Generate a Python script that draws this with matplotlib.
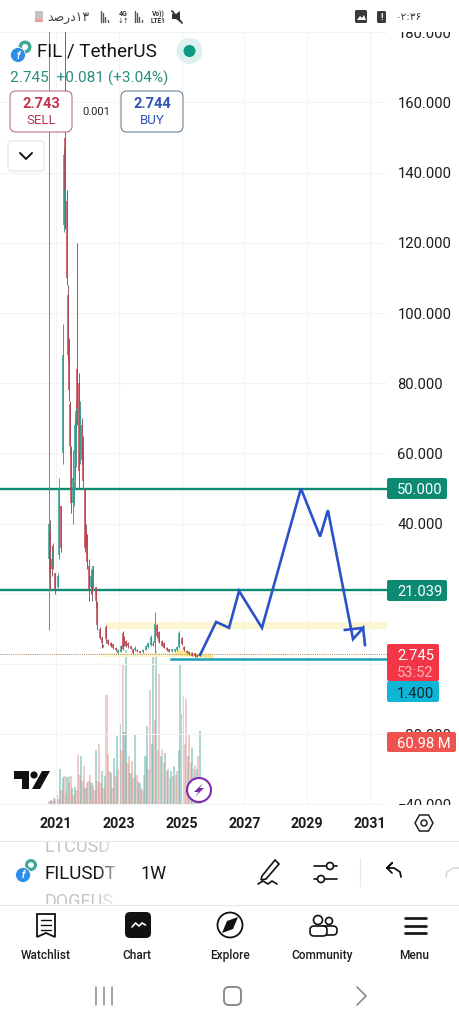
import numpy as np
import matplotlib
matplotlib.use('Agg')
import matplotlib.pyplot as plt
from matplotlib.patches import Rectangle, Circle, FancyBboxPatch, Polygon

plt.rcParams['font.family'] = ['Roboto', 'DejaVu Sans']

# weekly candles
candle_years = [2020.79, 2020.82, 2020.87, 2020.92, 2020.98, 2021.05, 2021.11, 2021.16, 2021.21, 2021.24,
                2021.29, 2021.35, 2021.38, 2021.43, 2021.46, 2021.49, 2021.54, 2021.57, 2021.60, 2021.65,
                2021.68, 2021.73, 2021.78, 2021.83, 2021.87, 2021.91, 2021.95, 2022.00, 2022.05, 2022.10,
                2022.15, 2022.19, 2022.26, 2022.32, 2022.39, 2022.47, 2022.51, 2022.59, 2022.67, 2022.74,
                2022.82, 2022.91, 2022.98, 2023.06, 2023.12, 2023.17, 2023.23, 2023.30, 2023.38, 2023.44,
                2023.52, 2023.59, 2023.68, 2023.78, 2023.87, 2023.94, 2024.02, 2024.08, 2024.15, 2024.21,
                2024.28, 2024.37, 2024.44, 2024.53, 2024.61, 2024.69, 2024.78, 2024.84, 2024.93, 2025.00,
                2025.08, 2025.16, 2025.25, 2025.33, 2025.42, 2025.50, 2025.58]
opens = [30, 38, 30, 28, 26, 22, 31, 45, 60, 125,
         150, 132, 105, 90, 74, 60, 46, 47, 52, 60,
         84, 80, 60, 68, 62, 50, 38, 36, 28, 22,
         24, 22, 22, 17, 10, 7.5, 5.3, 10.5, 6.8, 6.1,
         5.6, 4.6, 3.2, 3.5, 8.8, 7.6, 6.5, 6.1, 5.0, 4.2,
         3.9, 4.1, 3.6, 3.4, 4.1, 4.9, 5.4, 5.6, 6, 11,
         9, 6.5, 6, 4.6, 4.2, 3.7, 3.7, 4.0, 4.8, 7.5,
         4.8, 3.8, 3.5, 3.1, 3.0, 2.6, 2.5]
closes = [40, 26, 27, 32, 21, 25, 50, 33, 88, 145,
          135, 110, 88, 78, 62, 46, 53, 50, 68, 72,
          73, 55, 72, 58, 52, 33, 34, 29, 21, 25,
          20, 28, 18, 11, 7.5, 6, 5.2, 7, 5.7, 5.1,
          4.5, 4.0, 4.0, 5.2, 4.2, 5.4, 5.0, 5.0, 4.3, 3.1,
          4.7, 3.6, 3.2, 4.0, 5.2, 5.9, 7.8, 5.4, 11.5, 8,
          6.2, 5.2, 4.7, 4.0, 3.5, 4.2, 4.2, 4.8, 8.8, 5.6,
          4.0, 3.2, 2.8, 2.4, 2.2, 2.1, 3.0]
highs = [240, 41, 34, 34.5, 26, 26, 53, 45, 97, 147,
         200, 135, 108, 93, 75, 62, 61, 52, 70, 75,
         120, 83, 75, 70, 65, 50, 40, 37, 30, 27,
         27, 28, 22, 18, 10.5, 8, 5.5, 11, 7, 6.3,
         5.8, 4.8, 4.2, 5.5, 9.4, 8, 6.8, 6.3, 5.2, 4.4,
         5, 4.2, 3.7, 4.2, 5.5, 6.2, 8.3, 6.5, 14.8, 11.5,
         9.5, 6.8, 6.3, 4.8, 4.4, 4.4, 4.4, 5, 9.5, 7.8,
         5, 4, 3.8, 3.3, 3.2, 2.8, 3.2]
lows = [9.7, 21, 25, 27, 20, 21, 30, 32, 57, 123,
        124, 108, 86, 75, 60, 43, 40, 45, 50, 56,
        68, 50, 57, 57, 50, 32, 33, 27, 18, 20,
        18, 21, 16, 9.7, 7, 4.7, 4.8, 6, 5.5, 4.9,
        4.3, 3.8, 2.9, 3.3, 4, 5.2, 4.8, 4.7, 4.2, 2.9,
        3.8, 3.4, 3.0, 3.2, 3.9, 4.6, 5, 5.2, 3.1, 7.5,
        6, 5, 4.5, 3.8, 3.3, 3.5, 3.5, 3.8, 4.5, 5.5,
        3.8, 3.0, 2.6, 2.2, 2, 1.9, 2.3]

# volume in millions
volumes = [3, 4, 3, 6, 5, 8, 5, 30, 12, 22, 24, 10, 23, 18, 24, 14, 8, 15, 12, 41,
           25, 40, 20, 32, 14, 18, 20, 25, 18, 16, 12, 45, 20, 50, 18, 28, 14, 24, 91, 42,
           28, 26, 14, 39, 24, 57, 30, 67, 45, 116, 60, 128, 35, 40, 26, 36, 22, 58, 25, 20,
           18, 14, 12, 25, 40, 65, 30, 95, 50, 125, 70, 127, 45, 108, 40, 46, 35, 43, 28, 30,
           22, 28, 24, 32, 25, 28, 45, 116, 75, 90, 50, 87, 40, 58, 35, 47, 30, 33, 30, 40, 61]
volume_up = [0, 1, 0, 1, 0, 1, 0, 1, 0, 1, 0, 0, 1, 0, 0, 1, 0, 1, 0, 0,
             0, 1, 0, 0, 1, 0, 0, 0, 1, 0, 0, 1, 0, 0, 0, 1, 0, 1, 0, 0,
             0, 1, 0, 1, 0, 1, 0, 1, 0, 0, 1, 1, 0, 0, 1, 0, 0, 1, 0, 0,
             1, 0, 0, 0, 1, 1, 0, 0, 1, 1, 0, 1, 0, 0, 1, 0, 0, 1, 0, 1,
             0, 1, 0, 1, 0, 0, 1, 1, 1, 0, 0, 0, 1, 0, 0, 1, 0, 0, 1, 0, 1]
volume_years = np.linspace(2020.79, 2025.58, len(volumes))

# hand drawn projection
path_years = [2025.59, 2026.10, 2026.51, 2026.83, 2027.56, 2028.80, 2029.41, 2029.66, 2030.46, 2030.78, 2030.84]
path_values = [2.6, 12, 10.3, 20.8, 10.3, 50, 36.3, 43.8, 7.1, 10.3, 5.4]
stub_years = [2030.20, 2030.78]
stub_values = [9.7, 10.3]

levels = [50, 21.039]
support = 1.4
last_price = 2.745
year_ticks = [2021, 2023, 2025, 2027, 2029, 2031]
price_ticks = [-40, -20, 0, 20, 40, 60, 80, 100, 120, 140, 160, 180]
# 0 and 20 sit fully behind the value boxes
hidden_ticks = [0, 20]

UP = '#2a9d8f'
DOWN = '#c8404f'
GREEN = '#0d8a72'

fig = plt.figure(figsize=(4.6, 10.24), dpi=100, facecolor='white')
ax = fig.add_axes([0, 219 / 1024, 387 / 460, 773 / 1024])
ax.set_xlim(2019.217, 2031.541)
ax.set_ylim(-40.17, 180.06)
ax.set_facecolor('none')
ax.grid(True, color='#f2f3f5', lw=0.8)
ax.set_axisbelow(True)
for s in ax.spines.values():
    s.set_visible(False)

# volume on its own scale, same baseline as the price panel bottom
vol = ax.twinx()
vol.set_ylim(0, 637)
vol.set_yticks([])
vol.set_zorder(1)
vol.set_facecolor('none')
for s in vol.spines.values():
    s.set_visible(False)
vol.bar(volume_years, volumes, width=0.075,
        color=['#5fb0a8' if u else '#dd9a96' for u in volume_up], alpha=0.5, lw=0)
ax.set_zorder(2)

ax.set_xticks(year_ticks)
ax.set_yticks(price_ticks)
tick_labels = []
for p in price_ticks:
    if p in hidden_ticks:
        tick_labels.append('')
    elif p < 0:
        tick_labels.append('\u2212' + f'{-p:.3f}')
    else:
        tick_labels.append(f'{p:.3f}')
ax.set_yticklabels(tick_labels)
ax.yaxis.tick_right()
ax.tick_params(axis='y', length=0, pad=7.5, labelsize=10.6, labelcolor='#1c1c1c')
ax.tick_params(axis='x', length=0, pad=8.5, labelsize=10.3, labelcolor='#1c1c1c')
for t in ax.get_xticklabels():
    t.set_fontweight('bold')

# annotation bands
ax.fill_between([2022.55, 2031.541], 9.97, 12, color='#fdf6d3', lw=0)
ax.fill_between([2022.4, 2026.0], 2.0, 3.2, color='#fdf6d3', lw=0)
ax.add_patch(Polygon([(2024.9, 4.2), (2025.6, 2.6), (2026.0, 2.5), (2026.0, 1.6), (2024.75, 2.5)],
                     color='#f7e98a', lw=0))

for lv in levels:
    ax.axhline(lv, color=GREEN, lw=1.7)
ax.plot([2024.65, 2031.541], [support, support], color='#1b9fb5', lw=1.8)
ax.axhline(last_price, color='#b5814f', lw=0.7, ls=(0, (1, 1.2)))

# candles
for x, o, c, h, l in zip(candle_years, opens, closes, highs, lows):
    up = c >= o
    ax.vlines(x, l, h, color='#4f9a90' if up else '#8a5f63', lw=0.7)
    ax.vlines(x, min(o, c), max(o, c), color=UP if up else DOWN, lw=1.1)

ax.plot(path_years, path_values, color='#2a52c9', lw=1.9, solid_joinstyle='miter')
ax.plot(stub_years, stub_values, color='#2a52c9', lw=1.9)

# app chrome in pixel coordinates
ui = fig.add_axes([0, 0, 1, 1], zorder=10)
ui.set_xlim(0, 460)
ui.set_ylim(1024, 0)
ui.axis('off')
ui.patch.set_visible(False)


def box(x0, y0, x1, y1, fc, ec='none', lw=0.0, r=2.0, z=3):
    ui.add_patch(FancyBboxPatch((x0 + r, y0 + r), x1 - x0 - 2 * r, y1 - y0 - 2 * r,
                                boxstyle=f'round,pad={r},rounding_size={r}',
                                fc=fc, ec=ec, lw=lw, zorder=z))


def txt(x, y, s, size=9, color='#1c1c1c', ha='center', weight='normal', **kw):
    return ui.text(x, y, s, fontsize=size, color=color, ha=ha, va='center_baseline',
                   fontweight=weight, zorder=5, **kw)


def line(xs, ys, color='#111111', lw=1.2, z=4):
    ui.plot(xs, ys, color=color, lw=lw, solid_capstyle='round', zorder=z)


# clip the edge tick labels
ui.add_patch(Rectangle((0, 0), 460, 32, fc='white', ec='none', zorder=1))
ui.add_patch(Rectangle((388, 805), 72, 12, fc='white', ec='none', zorder=1))

# status bar
box(35, 11, 43, 22, '#c9c2bc', r=1)
ui.add_patch(Rectangle((35, 19), 8, 3, fc='#e2a29a', ec='none', zorder=4))
txt(47, 16, '\ufeaa\ufebb\ufead\ufea9\u06f1\u06f3', size=9, color='#444444', ha='left', family='DejaVu Sans')
for bx in (101, 135):
    for i, hh in enumerate((11, 9, 5, 2)):
        line([bx + i * 2.2, bx + i * 2.2], [22, 22 - hh], color='#555555', lw=1)
txt(123, 13, '4G', size=5, color='#333333', weight='bold')
txt(123, 20, '\u2193\u2191', size=5, color='#333333', family='DejaVu Sans')
txt(158, 13, 'Vo))', size=4.8, color='#333333', weight='bold')
txt(158, 20, 'LTE1', size=4.8, color='#333333', weight='bold')
line([172, 182], [11, 23], color='#333333', lw=1.3)
ui.add_patch(Polygon([(172, 14), (176, 14), (180, 11), (180, 22), (176, 19), (172, 19)], fc='#333333', ec='none', zorder=4))
box(355, 10, 367, 23, '#3a3a3a', r=1.5)
ui.add_patch(Polygon([(357, 20), (360, 16), (362, 18), (364, 15), (366, 20)], fc='white', ec='none', zorder=5))
box(377, 11, 386, 23, '#3a3a3a', r=1.5)
txt(381.5, 17, '!', size=6.5, color='white', weight='bold')
txt(396, 15.5, '\u06f0\u06f2:\u06f3\u06f6', size=7.5, color='#333333', ha='left', family='DejaVu Sans')

# header
ui.add_patch(Circle((25, 47), 6.5, fc='#3da894', ec='none', zorder=4))
ui.add_patch(Circle((25, 47), 3, fc='white', ec='none', zorder=4))
ui.add_patch(Circle((18, 55), 7.5, fc='#2c8ee8', ec='white', lw=0.6, zorder=4))
txt(18, 55, 'f', size=7, color='white', style='italic', weight='bold')
txt(37, 49.5, 'FIL / TetherUS', size=13.6, ha='left', color='#151515')
ui.add_patch(Circle((189.5, 51), 13, fc='#dcf1ed', ec='none', zorder=3))
ui.add_patch(Circle((189.5, 51), 6, fc='#0b9981', ec='none', zorder=4))
txt(10, 77, '2.745  +0.081 (+3.04%)', size=11.1, color='#2a8f7e', ha='left')
box(10, 91, 72, 132, 'white', ec='#b2606e', lw=0.7, r=6)
txt(41, 103, '2.743', size=10.5, color='#c2354d', weight='bold')
txt(41, 119.5, 'SELL', size=9.5, color='#c2354d')
txt(96, 111, '0.001', size=8, color='#222222')
box(121, 91, 183, 132, 'white', ec='#5a7390', lw=0.7, r=6)
txt(152, 103, '2.744', size=10.5, color='#2f54b5', weight='bold')
txt(152, 119.5, 'BUY', size=9.5, color='#2f54b5')
box(8, 141, 44, 171, 'white', ec='#e8e8e8', lw=0.9, r=3)
line([20, 26, 32], [153, 159, 153], lw=1.4)

# price labels
box(387, 478, 447, 499, GREEN)
txt(420, 488.5, '50.000', size=10.6, color='white')
box(387, 580, 447, 601, GREEN)
txt(420, 590.5, '21.039', size=10.6, color='white')
box(387, 644, 439, 681, '#f23645')
txt(415.5, 655, '2.745', size=10.6, color='white')
txt(415.5, 671.5, '53:52', size=10.6, color='#fbb4ba')
box(387, 681, 439, 702, '#0fb5d4')
txt(415.5, 692.5, '1.400', size=10.6, color='#0b2530')
box(387, 732, 456, 752, '#ef5350')
txt(423.5, 742.5, '60.98 M', size=10.6, color='white')

# TV logo and bolt
ui.add_patch(Polygon([(14, 771), (29, 771), (29, 789), (22, 789), (22, 779), (14, 779)], fc='#111111', ec='none', zorder=4))
ui.add_patch(Circle((34, 775), 3.6, fc='#111111', ec='none', zorder=4))
ui.add_patch(Polygon([(42, 771), (50, 771), (40, 789), (32, 789)], fc='#111111', ec='none', zorder=4))
ui.add_patch(Circle((199, 790), 12, fc='white', ec='#7b2cae', lw=1.5, zorder=4))
ui.add_patch(Polygon([(203, 783), (194, 792), (198.5, 792), (195, 797), (204, 788), (199.5, 788)], fc='#7b2cae', ec='none', zorder=5))

# settings hex
ui.add_patch(Polygon([(415, 823), (419.5, 815), (428.5, 815), (433, 823), (428.5, 831), (419.5, 831)],
                     fc='white', ec='#222222', lw=1.1, zorder=4))
ui.add_patch(Circle((424, 823), 3, fc='white', ec='#222222', lw=1.1, zorder=5))

# symbol row
clip = Rectangle((0, 841), 460, 63, transform=ui.transData)
t = txt(45, 845, 'LTCUSD', size=13, color='#c4c4c4', ha='left', clip_on=True)
t.set_clip_path(clip)
t = txt(45, 900, 'DOGEUS', size=13, color='#c4c4c4', ha='left', clip_on=True)
t.set_clip_path(clip)
txt(45, 872, 'FILUSDT', size=13.5, color='#151515', ha='left')
fade = np.ones((1, 40, 4))
fade[..., 3] = np.linspace(0, 1, 40)
ui.imshow(fade, extent=(98, 122, 904, 841), aspect='auto', zorder=6)
ui.set_xlim(0, 460)
ui.set_ylim(1024, 0)
line([0, 460], [840.5, 840.5], color='#e6e6e6', lw=0.8, z=7)
line([0, 460], [904.5, 904.5], color='#e6e6e6', lw=0.8, z=7)
ui.add_patch(Circle((31, 865), 6, fc='#3da894', ec='none', zorder=7))
ui.add_patch(Circle((31, 865), 2.8, fc='white', ec='none', zorder=7))
ui.add_patch(Circle((23, 875), 7.5, fc='#2c8ee8', ec='white', lw=0.6, zorder=7))
ui.text(23, 875, 'f', fontsize=7, color='white', style='italic', fontweight='bold', ha='center', va='center', zorder=8)
txt(154, 872, '1W', size=13, color='#151515')

# pencil
ui.add_patch(Polygon([(262, 876), (275, 860), (279, 864), (266, 879), (261, 880)], fc='white', ec='#111111', lw=1.2, zorder=5))
line([258, 263, 268, 272, 277], [884, 881, 884, 881, 884], lw=1.2)
# sliders
line([314, 337], [866, 866], lw=1.2)
line([314, 337], [879, 879], lw=1.2)
ui.add_patch(Circle((330, 866), 3.5, fc='white', ec='#111111', lw=1.2, zorder=5))
ui.add_patch(Circle((321, 879), 3.5, fc='white', ec='#111111', lw=1.2, zorder=5))
line([360, 360], [858, 886], color='#e8e8e8', lw=0.8)
# undo, redo
line([401, 400, 394, 387, 392, 387, 392], [877, 872, 868, 868, 863, 868, 873], lw=1.3)
line([446, 447, 453, 460], [877, 872, 868, 868], color='#d8d8d8', lw=1.1)

# bottom nav
ui.add_patch(Polygon([(37, 914), (55, 914), (55, 937), (46, 933), (37, 937)], fc='white', ec='#111111', lw=1.3, zorder=4))
for yy in (920, 925, 930):
    line([41, 51], [yy, yy], lw=1)
box(125, 912, 151, 938, '#111111', r=5)
line([132, 135.5, 139, 142, 145.5], [927, 923, 926, 923, 925], color='white', lw=1.2, z=5)
ui.add_patch(Circle((230, 925), 12.5, fc='white', ec='#111111', lw=1.3, zorder=4))
ui.add_patch(Polygon([(238, 917), (233, 929), (222, 933), (227, 921)], fc='#111111', ec='none', zorder=5))
ui.add_patch(Circle((318, 920), 4.5, fc='white', ec='#111111', lw=1.2, zorder=4))
ui.add_patch(Circle((329, 921), 3.5, fc='white', ec='#111111', lw=1.2, zorder=4))
box(319, 926, 337, 935, 'white', ec='#111111', lw=1.2, r=4, z=4)
box(310, 926, 327, 936, 'white', ec='#111111', lw=1.2, r=4, z=4)
for yy in (918, 925.5, 933):
    line([405.5, 426.5], [yy, yy], lw=1.9)
for x, s in zip((46, 137, 230, 322, 414), ('Watchlist', 'Chart', 'Explore', 'Community', 'Menu')):
    txt(x, 954, s, size=8.6, weight='medium')

# android nav
for x in (96, 104, 112):
    line([x, x], [987, 1005], color='#8a8a8a', lw=1.1)
box(224, 987, 241, 1005, 'white', ec='#8a8a8a', lw=1.4, r=5)
line([357, 366, 357], [987, 996, 1005], color='#8a8a8a', lw=1.2)

fig.savefig('out.png', dpi=100)
